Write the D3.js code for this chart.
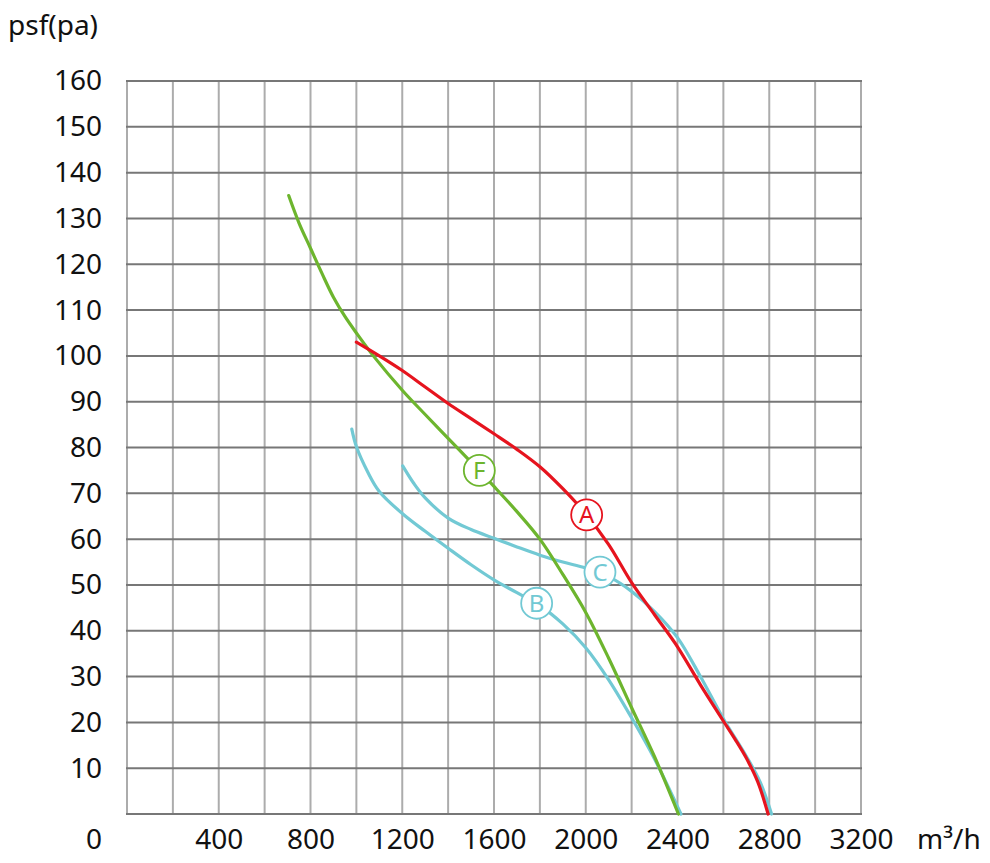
<!DOCTYPE html>
<html>
<head>
<meta charset="utf-8">
<script src="https://cdn.jsdelivr.net/npm/d3@7"></script>
<style>
  body { margin: 0; background: #fff; }
  text { font-family: "Noto Sans", "Open Sans", sans-serif; }
</style>
</head>
<body>
<script>
// tick labels
const xTicks = [400, 800, 1200, 1600, 2000, 2400, 2800, 3200];
const yTicks = [10, 20, 30, 40, 50, 60, 70, 80, 90, 100, 110, 120, 130, 140, 150, 160];
const xGrid = [0, 200, 400, 600, 800, 1000, 1200, 1400, 1600, 1800, 2000, 2200, 2400, 2600, 2800, 3000, 3200];
const yGrid = [0, 10, 20, 30, 40, 50, 60, 70, 80, 90, 100, 110, 120, 130, 140, 150, 160];

// curves: [m3/h, pa]
const curveF = [[705,135],[750,129],[800,123.5],[850,118],[900,112.8],[950,108.6],[1000,105],
                [1074,100],[1200,92.5],[1300,87.2],[1400,82],[1500,76.8],[1600,71.5],[1700,66],
                [1800,60],[1900,52.3],[2000,44],[2100,34],[2200,23.2],[2300,12.5],[2404,0]];
const curveA = [[1000,103],[1100,100],[1200,96.8],[1300,93.2],[1400,89.6],[1500,86.3],[1600,83],
                [1700,79.6],[1800,75.8],[1900,71],[2000,65.5],[2100,58.8],[2200,50.5],[2300,43.5],
                [2400,36.5],[2500,28.2],[2600,20.3],[2650,16.4],[2700,12.2],[2750,7],[2795,0]];
const curveB = [[980,84],[1000,80.2],[1050,74.6],[1100,70.4],[1200,65.6],[1300,61.7],[1400,58],
                [1500,54.4],[1600,51.1],[1700,48.3],[1800,45.5],[1900,41.5],[2000,36.3],[2100,29.3],
                [2200,21],[2300,12],[2415,0]];
const curveC = [[1202,76],[1250,72.2],[1300,69],[1400,64.6],[1500,62.1],[1600,60.2],[1700,58.3],
                [1800,56.5],[1900,55],[2000,53.7],[2100,51.8],[2200,48.6],[2300,44.2],[2400,38.5],
                [2500,30],[2600,20.8],[2700,12.6],[2760,7],[2810,0]];

const curveNames = ["B", "C", "F", "A"];
const curveData = [curveB, curveC, curveF, curveA];
const curveColors = ["#72c9d4", "#72c9d4", "#6db52e", "#e6141e"];
const labelPos = { F: [1536, 75], A: [2004, 65.3], C: [2062, 52.8], B: [1786, 46] };

const width = 990, height = 863;

const svg = d3.select("body").append("svg")
  .attr("width", width)
  .attr("height", height);

const x = d3.scaleLinear().domain([0, 3200]).range([127, 861]);
const y = d3.scaleLinear().domain([0, 160]).range([814, 81]);

// grid
svg.append("g").selectAll("line")
  .data(xGrid).enter().append("line")
  .attr("x1", d => x(d)).attr("x2", d => x(d))
  .attr("y1", y(0)).attr("y2", y(160))
  .attr("stroke", "#acacac").attr("stroke-width", 2);

svg.append("g").selectAll("line")
  .data(yGrid).enter().append("line")
  .attr("x1", x(0) - 1).attr("x2", x(3200) + 1)
  .attr("y1", d => y(d)).attr("y2", d => y(d))
  .attr("stroke", "#777").attr("stroke-width", 2);

// axes (labels only)
const xAxis = svg.append("g")
  .attr("transform", "translate(0," + y(0) + ")")
  .call(d3.axisBottom(x).tickValues(xTicks).tickFormat(d3.format("d")).tickSize(0).tickPadding(15));

const yAxis = svg.append("g")
  .attr("transform", "translate(" + x(0) + ",0)")
  .call(d3.axisLeft(y).tickValues(yTicks).tickFormat(d3.format("d")).tickSize(0).tickPadding(25));

[xAxis, yAxis].forEach(function(a) {
  a.select(".domain").remove();
  a.selectAll("text")
   .style("font-family", "'Noto Sans', sans-serif")
   .style("font-size", "28px")
   .attr("fill", "#111");
});

svg.append("text")
  .attr("x", 102).attr("y", 849)
  .attr("text-anchor", "end")
  .attr("font-size", 28).attr("fill", "#111")
  .text("0");

svg.append("text")
  .attr("x", 917).attr("y", 849)
  .attr("font-size", 28).attr("fill", "#111")
  .text("m³/h");

svg.append("text")
  .attr("x", 8).attr("y", 35)
  .attr("font-size", 28).attr("fill", "#111")
  .text("psf(pa)");

// curves
const linha = d3.line()
  .x(d => x(d[0]))
  .y(d => y(d[1]))
  .curve(d3.curveCatmullRom.alpha(0.5));

svg.append("g").selectAll("path")
  .data(curveData).enter().append("path")
  .attr("d", linha)
  .attr("fill", "none")
  .attr("stroke", (d, i) => curveColors[i])
  .attr("stroke-width", 3.2)
  .attr("stroke-linecap", "round");

// curve labels
const rotulos = svg.append("g").selectAll("g")
  .data(curveNames).enter().append("g")
  .attr("transform", d => "translate(" + x(labelPos[d][0]) + "," + y(labelPos[d][1]) + ")");

rotulos.append("circle")
  .attr("r", 15.5)
  .attr("fill", "#fff")
  .attr("stroke", (d, i) => curveColors[i])
  .attr("stroke-width", 1.8);

rotulos.append("text")
  .attr("text-anchor", "middle")
  .attr("dy", "0.36em")
  .attr("font-size", 24)
  .attr("fill", (d, i) => curveColors[i])
  .text(d => d);
</script>
</body>
</html>
